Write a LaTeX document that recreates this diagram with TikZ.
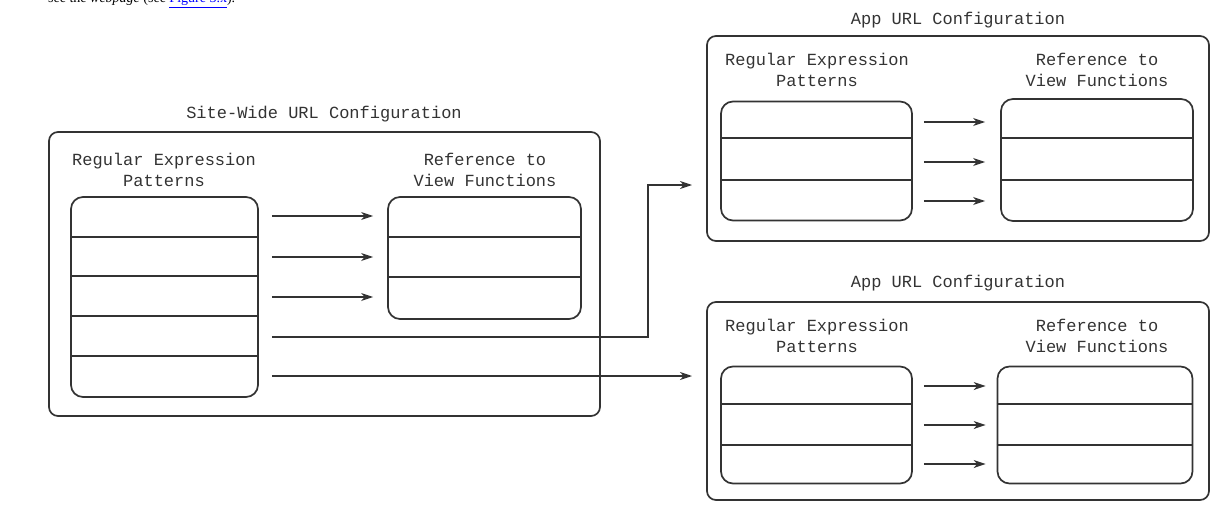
\documentclass[tikz,border=0pt]{standalone}
\usepackage{fontspec}
\setmonofont{Liberation Mono}
\newfontfamily\capfont{Liberation Serif}
\usetikzlibrary{arrows.meta,calc}
\definecolor{ink}{HTML}{333333}
\tikzset{
  outerbox/.style={draw=ink, line width=1.7pt, rounded corners=9pt},
  tbl/.style={draw=ink, line width=1.7pt, rounded corners=12pt, rectangle, inner sep=0pt},
  rowline/.style={draw=ink, line width=1.5pt},
  tip/.style={-{Stealth[length=12pt,width=8pt,inset=3.5pt]}},
  conn/.style={draw=ink, line width=1.3pt, tip},
  lbl/.style={font=\ttfamily\fontsize{17}{21}\selectfont, text=ink, align=center, inner sep=0pt},
}
\begin{document}
\begin{tikzpicture}[x=1pt,y=-1pt]
\useasboundingbox (0,0) rectangle (1231,508);
% cropped caption line at the top (cut off by the page edge, as in the reference)
\begin{scope}
\clip (0,0) rectangle (1231,12);
\node[font=\capfont\fontsize{14}{16}\selectfont, anchor=base west, inner sep=0pt] (cap) at (48,3)
  {see the \textit{webpage} (see \textcolor{blue}{\underline{Figure 3.x}}).};
\end{scope}

% ---------- Site-wide configuration ----------
\node[lbl] (swtitle) at (324,114) {Site-Wide URL Configuration};
\draw[outerbox] (49,132) rectangle (600,416);
\node[lbl] (swl) at (164,170) {Regular Expression\\Patterns};
\node[lbl] (swr) at (485,170) {Reference to\\View Functions};
\node[tbl, minimum width=187pt, minimum height=200pt] (SL) at (164.5,297) {};
\foreach \y in {237,276,316,356} \draw[rowline] (SL.west |- 0,\y) -- (SL.east |- 0,\y);
\node[tbl, minimum width=193pt, minimum height=122pt] (SR) at (484.5,258) {};
\foreach \y in {237,277} \draw[rowline] (SR.west |- 0,\y) -- (SR.east |- 0,\y);
\foreach \y in {216,257,297}
  \draw[conn] ($(SL.east |- 0,\y)+(13,0)$) -- ($(SR.west |- 0,\y)+(-14,0)$);

% ---------- Top app configuration ----------
\node[lbl] (t1title) at (958,20) {App URL Configuration};
\draw[outerbox] (707,36) rectangle (1209,241);
\node[lbl] (t1l) at (817,70) {Regular Expression\\Patterns};
\node[lbl] (t1r) at (1097,70) {Reference to\\View Functions};
\node[tbl, minimum width=191pt, minimum height=119pt] (AL) at (816.5,161) {};
\foreach \y in {138,180} \draw[rowline] (AL.west |- 0,\y) -- (AL.east |- 0,\y);
\node[tbl, minimum width=192pt, minimum height=122pt] (AR) at (1097,160) {};
\foreach \y in {138,180} \draw[rowline] (AR.west |- 0,\y) -- (AR.east |- 0,\y);
\foreach \y in {122,162,201}
  \draw[conn] ($(AL.east |- 0,\y)+(11,0)$) -- ($(AR.west |- 0,\y)+(-15,0)$);

% ---------- Bottom app configuration ----------
\node[lbl] (t2title) at (958,283) {App URL Configuration};
\draw[outerbox] (707,302) rectangle (1209,500);
\node[lbl] (t2l) at (817,336) {Regular Expression\\Patterns};
\node[lbl] (t2r) at (1097,336) {Reference to\\View Functions};
\node[tbl, minimum width=191pt, minimum height=117pt] (BL) at (816.5,425) {};
\foreach \y in {404,445} \draw[rowline] (BL.west |- 0,\y) -- (BL.east |- 0,\y);
\node[tbl, minimum width=195pt, minimum height=117pt] (BR) at (1095,425) {};
\foreach \y in {404,445} \draw[rowline] (BR.west |- 0,\y) -- (BR.east |- 0,\y);
\foreach \y in {386,425,464}
  \draw[conn] ($(BL.east |- 0,\y)+(11,0)$) -- ($(BR.west |- 0,\y)+(-11,0)$);

% ---------- connectors from site-wide to apps ----------
\coordinate (s5) at ($(SL.east |- 0,337)+(13,0)$);
\coordinate (k5) at (648,337);
\coordinate (k5b) at (648,185);
\coordinate (ta) at (692,185);
\coordinate (s6) at ($(SL.east |- 0,376)+(13,0)$);
\coordinate (tb) at (692,376);
\draw[conn] (s5) -- (k5) -- (k5b) -- (ta);
\draw[conn] (s6) -- (tb);
\end{tikzpicture}
\end{document}
